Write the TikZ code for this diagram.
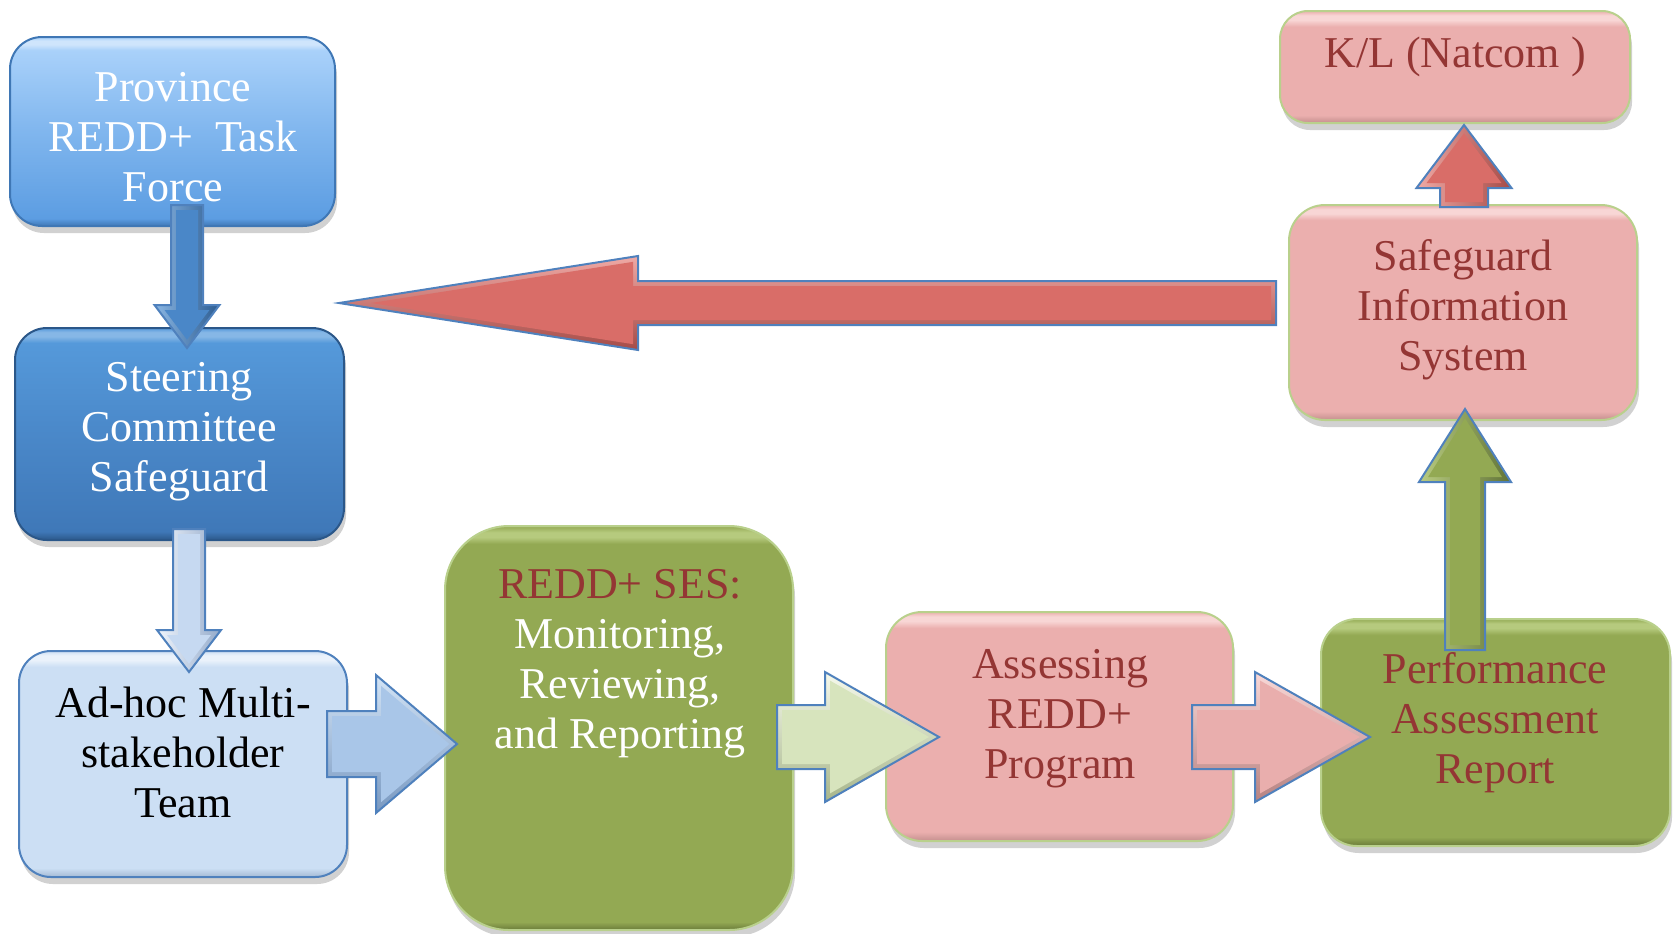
\documentclass[tikz,border=0pt]{standalone}
\usepackage{fontspec}
\setmainfont{Liberation Serif}
\usetikzlibrary{shadows}
\definecolor{dred}{HTML}{943634}
\definecolor{arrEdge}{HTML}{4F81BD}
\definecolor{grnEdge}{HTML}{B9D08C}
% box colours
\definecolor{pinkC}{HTML}{EBAFAE}\definecolor{pinkL}{HTML}{F8D6D5}\definecolor{pinkD}{HTML}{C48F8E}
\definecolor{grnC}{HTML}{93A953}\definecolor{grnL}{HTML}{B6CA7E}\definecolor{grnD}{HTML}{6A7B3A}
\definecolor{provT}{HTML}{A9D1FA}\definecolor{provM}{HTML}{80B6EE}\definecolor{provB}{HTML}{5C9DE2}
\definecolor{provH}{HTML}{CFE5FC}\definecolor{provD}{HTML}{3F77B5}
\definecolor{stT}{HTML}{5599DA}\definecolor{stM}{HTML}{4A88C9}\definecolor{stB}{HTML}{3F78B8}
\definecolor{stH}{HTML}{86B7E6}\definecolor{stD}{HTML}{2B5789}
\definecolor{adC}{HTML}{CCDFF4}\definecolor{adL}{HTML}{EAF2FB}\definecolor{adD}{HTML}{A3B9D4}
\pgfdeclareverticalshading{pinkbev}{100bp}{color(0bp)=(pinkD); color(25bp)=(pinkD); color(27bp)=(pinkC);
  color(71.5bp)=(pinkC); color(73bp)=(pinkL); color(74bp)=(pinkL); color(75bp)=(pinkC); color(100bp)=(pinkC)}
\pgfdeclareverticalshading{grnbev}{100bp}{color(0bp)=(grnD); color(25bp)=(grnD); color(27bp)=(grnC);
  color(71.5bp)=(grnC); color(73bp)=(grnL); color(74bp)=(grnL); color(75bp)=(grnC); color(100bp)=(grnC)}
\pgfdeclareverticalshading{grnbevbig}{100bp}{color(0bp)=(grnD); color(25bp)=(grnD); color(26bp)=(grnC);
  color(72.8bp)=(grnC); color(73.6bp)=(grnL); color(74.2bp)=(grnL); color(75bp)=(grnC); color(100bp)=(grnC)}
\pgfdeclareverticalshading{pinkbevsmall}{100bp}{color(0bp)=(pinkD); color(25bp)=(pinkD); color(28.5bp)=(pinkC);
  color(68bp)=(pinkC); color(71bp)=(pinkL); color(73bp)=(pinkL); color(75bp)=(pinkC); color(100bp)=(pinkC)}
\pgfdeclareverticalshading{provbev}{100bp}{color(0bp)=(provD); color(25bp)=(provD); color(27bp)=(provB);
  color(50bp)=(provM); color(71.5bp)=(provT); color(73bp)=(provH); color(74bp)=(provH); color(75bp)=(provT); color(100bp)=(provT)}
\pgfdeclareverticalshading{stbev}{100bp}{color(0bp)=(stD); color(25bp)=(stD); color(27bp)=(stB);
  color(50bp)=(stM); color(71.5bp)=(stT); color(73bp)=(stH); color(74bp)=(stH); color(75bp)=(stT); color(100bp)=(stT)}
\pgfdeclareverticalshading{adbev}{100bp}{color(0bp)=(adD); color(25bp)=(adD); color(27bp)=(adC);
  color(71.5bp)=(adC); color(73bp)=(adL); color(74bp)=(adL); color(75bp)=(adC); color(100bp)=(adC)}
% arrow colours
\definecolor{aOneC}{HTML}{4A87C8}\definecolor{aOneL}{HTML}{8AB6E3}\definecolor{aOneD}{HTML}{2C5C91}
\definecolor{aTwoC}{HTML}{C6D9F1}\definecolor{aTwoL}{HTML}{F0F5FC}\definecolor{aTwoD}{HTML}{93AACA}
\definecolor{aThrC}{HTML}{A9C6E8}\definecolor{aThrL}{HTML}{D3E4F6}\definecolor{aThrD}{HTML}{7898C0}
\definecolor{aFouC}{HTML}{D7E4BD}\definecolor{aFouL}{HTML}{F6F9EC}\definecolor{aFouD}{HTML}{A6B58A}
\definecolor{aFivC}{HTML}{E9AEAD}\definecolor{aFivL}{HTML}{F9D8D7}\definecolor{aFivD}{HTML}{B68281}
\definecolor{aSixC}{HTML}{93A953}\definecolor{aSixL}{HTML}{B9CC82}\definecolor{aSixD}{HTML}{617337}
\definecolor{aSevC}{HTML}{D96D68}\definecolor{aSevL}{HTML}{EFA9A5}\definecolor{aSevD}{HTML}{A54B47}
\tikzset{
  box/.style={rectangle, rounded corners=16pt, inner sep=0pt, line width=1pt,
    drop shadow={shadow xshift=1pt, shadow yshift=-3.5pt, opacity=0.3, fill=black!60}},
  pinkbox/.style={box, draw=grnEdge, shading=pinkbev},
  greenbox/.style={box, draw=grnEdge, shading=grnbev},
  txt/.style={align=center, inner sep=0pt, font=\fontsize{22}{25}\selectfont},
  arr/.style={draw=arrEdge, line width=1pt, line join=miter},
}
% block arrows: colour base, light, dark; x0 (start), xb (head base), xt (tip), yc, shaft half, head half
\newcommand\harrow[9]{%
  \pgfmathsetmacro\arSg{(#6>#4)?1:-1}%
  \pgfmathsetmacro\arL{abs(#6-#5)}%
  \pgfmathsetmacro\arK{sqrt(1+(\arL/#9)*(\arL/#9))}%
  \pgfmathsetmacro\arXt{#6-\arSg*5*\arK}%
  \pgfmathsetmacro\arXo{#4+\arSg*5}%
  \pgfmathsetmacro\arXb{#5+\arSg*5}%
  \pgfmathsetmacro\arS{#8-5}%
  \pgfmathsetmacro\arH{(#9/\arL)*abs(\arXt-\arXb)}%
  \path[top color=#2, bottom color=#3] ({#4},{#7-#8}) -- ({#5},{#7-#8}) -- ({#5},{#7-#9}) -- ({#6},{#7})
    -- ({#5},{#7+#9}) -- ({#5},{#7+#8}) -- ({#4},{#7+#8}) -- cycle;
  \fill[#1] ({\arXo},{#7-\arS}) -- ({\arXb},{#7-\arS}) -- ({\arXb},{#7-\arH}) -- ({\arXt},{#7})
    -- ({\arXb},{#7+\arH}) -- ({\arXb},{#7+\arS}) -- ({\arXo},{#7+\arS}) -- cycle;
  \draw[arr] ({#4},{#7-#8}) -- ({#5},{#7-#8}) -- ({#5},{#7-#9}) -- ({#6},{#7})
    -- ({#5},{#7+#9}) -- ({#5},{#7+#8}) -- ({#4},{#7+#8}) -- cycle;}
\newcommand\varrow[9]{%
  \pgfmathsetmacro\arSg{(#6>#4)?1:-1}%
  \pgfmathsetmacro\arL{abs(#6-#5)}%
  \pgfmathsetmacro\arK{sqrt(1+(\arL/#9)*(\arL/#9))}%
  \pgfmathsetmacro\arXt{#6-\arSg*5*\arK}%
  \pgfmathsetmacro\arXo{#4+\arSg*5}%
  \pgfmathsetmacro\arXb{#5+\arSg*5}%
  \pgfmathsetmacro\arS{#8-5}%
  \pgfmathsetmacro\arH{(#9/\arL)*abs(\arXt-\arXb)}%
  \path[left color=#2, right color=#3] ({#7-#8},{#4}) -- ({#7-#8},{#5}) -- ({#7-#9},{#5}) -- ({#7},{#6})
    -- ({#7+#9},{#5}) -- ({#7+#8},{#5}) -- ({#7+#8},{#4}) -- cycle;
  \fill[#1] ({#7-\arS},{\arXo}) -- ({#7-\arS},{\arXb}) -- ({#7-\arH},{\arXb}) -- ({#7},{\arXt})
    -- ({#7+\arH},{\arXb}) -- ({#7+\arS},{\arXb}) -- ({#7+\arS},{\arXo}) -- cycle;
  \draw[arr] ({#7-#8},{#4}) -- ({#7-#8},{#5}) -- ({#7-#9},{#5}) -- ({#7},{#6})
    -- ({#7+#9},{#5}) -- ({#7+#8},{#5}) -- ({#7+#8},{#4}) -- cycle;}
\begin{document}
\begin{tikzpicture}[x=0.5pt,y=-0.5pt]
\useasboundingbox (0,0) rectangle (1673,933);
% boxes
\node[box, draw=provD, shading=provbev,
  minimum width=162.5pt, minimum height=94.5pt] (prov) at (172.5,131.5) {};
\node[box, draw=stD, shading=stbev,
  minimum width=164.5pt, minimum height=106pt] (steer) at (179.5,434) {};
\node[box, draw=arrEdge, shading=adbev,
  minimum width=164pt, minimum height=113pt] (adhoc) at (183,764) {};
\node[greenbox, shading=grnbevbig, rounded corners=32pt, minimum width=174pt, minimum height=202pt] (ses) at (619,728) {};
\node[pinkbox, rounded corners=18pt, minimum width=173.5pt, minimum height=114.5pt] (assess) at (1059.5,726.5) {};
\node[greenbox, rounded corners=18pt, minimum width=174.5pt, minimum height=113.5pt] (perf) at (1495.5,732.5) {};
\node[pinkbox, rounded corners=18pt, minimum width=174pt, minimum height=107.5pt] (sis) at (1463,312.5) {};
\node[pinkbox, shading=pinkbevsmall, rounded corners=14pt, minimum width=175pt, minimum height=56pt] (kl) at (1455,67) {};
% texts
\node[txt, text=white] (provt) at (173,137) {Province\\REDD+~ Task\\Force};
\node[txt, text=white] (steert) at (179,432) {Steering\\Committee\\Safeguard};
\node[txt, text=black] (adhoct) at (183,752) {Ad-hoc Multi-\\stakeholder\\Team};
\node[txt, text=white] (sest) at (620,664) {\textcolor{dred}{REDD+ SES:}\\Monitoring,\\Reviewing,\\and Reporting};
\node[txt, text=dred] (assesst) at (1060,719) {Assessing\\REDD+\\Program};
\node[txt, text=dred] (perft) at (1495,723) {Performance\\Assessment\\Report};
\node[txt, text=dred] (sist) at (1463,310) {Safeguard\\Information\\System};
\node[txt, text=dred] (klt) at (1455,57) {K/L (Natcom )};
% arrows
\varrow{aOneC}{aOneL}{aOneD}{205}{305}{348}{187}{16}{32.5}
\varrow{aTwoC}{aTwoL}{aTwoD}{529}{630}{672}{189}{16}{32}
\harrow{aThrC}{aThrL}{aThrD}{327}{376}{457}{744}{33}{69}
\harrow{aFouC}{aFouL}{aFouD}{777}{825}{939}{737}{32}{65}
\harrow{aFivC}{aFivL}{aFivD}{1192}{1255}{1370}{737}{32}{65}
\varrow{aSixC}{aSixL}{aSixD}{650}{482}{409}{1465}{20}{46}
\varrow{aSevC}{aSevL}{aSevD}{207}{188}{125}{1464}{24}{47.5}
\harrow{aSevC}{aSevL}{aSevD}{1276}{638}{339}{303}{22}{47}
\end{tikzpicture}
\end{document}
